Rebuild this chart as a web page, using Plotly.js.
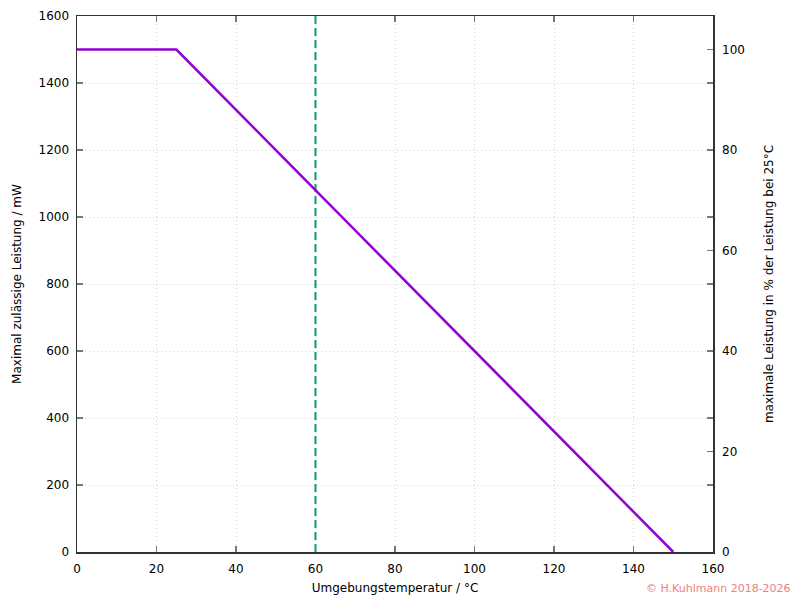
<!DOCTYPE html>
<html>
<head>
<meta charset="utf-8">
<script src="https://cdn.plot.ly/plotly-3.0.1.min.js"></script>
<style>html,body{margin:0;padding:0;background:#fff}#chart{width:800px;height:600px}</style>
</head>
<body>
<div id="chart"></div>
<script>
// Derating curve
const tempC = [0, 25, 150];
const powerMW = [1500, 1500, 0];
const markerTemp = [60, 60];
const markerRange = [0, 1600];
const xTicks = [0, 20, 40, 60, 80, 100, 120, 140, 160];
const yTicks = [0, 200, 400, 600, 800, 1000, 1200, 1400, 1600];
const y2Ticks = [0, 20, 40, 60, 80, 100];
const ratedPower = 1500;

const font = {family: 'DejaVu Sans, sans-serif', size: 12, color: '#000'};

const traces = [
  {x: markerTemp, y: markerRange, mode: 'lines', line: {color: '#009E73', width: 2, dash: '8px,4px'}, hoverinfo: 'skip', showlegend: false},
  {x: tempC, y: powerMW, mode: 'lines', line: {color: '#9400D3', width: 2.5}, showlegend: false},
  {x: [0], y: [0], yaxis: 'y2', mode: 'markers', marker: {opacity: 0}, hoverinfo: 'skip', showlegend: false}
];

const grid = {showgrid: true, gridcolor: '#d4d4d4', griddash: '1px,3px', gridwidth: 1};

const layout = {
  width: 800, height: 600,
  margin: {l: 77, r: 87, t: 16, b: 48},
  paper_bgcolor: '#fff', plot_bgcolor: '#fff',
  font: font,
  showlegend: false,
  xaxis: Object.assign({
    range: [0, 160], tickvals: xTicks, ticktext: xTicks.map(String),
    ticks: 'inside', ticklen: 6, tickcolor: '#777', tickwidth: 1.5,
    showline: true, linecolor: '#333', linewidth: 1.5, mirror: 'ticks',
    zeroline: false, ticklabelstandoff: 5,
    title: {text: 'Umgebungstemperatur / °C', font: font, standoff: 8}
  }, grid),
  yaxis: Object.assign({
    range: [0, 1600], tickvals: yTicks, ticktext: yTicks.map(String),
    ticks: 'inside', ticklen: 6, tickcolor: '#777', tickwidth: 1.5,
    showline: true, linecolor: '#333', linewidth: 1.5, mirror: 'ticks',
    zeroline: false, ticklabelstandoff: 4,
    title: {text: 'Maximal zulässige Leistung / mW', font: font, standoff: 14}
  }, grid),
  yaxis2: {
    overlaying: 'y', side: 'right',
    range: [0, 1600 / ratedPower * 100], tickvals: y2Ticks, ticktext: y2Ticks.map(String),
    ticks: 'inside', ticklen: 6, tickcolor: '#777', tickwidth: 1.5,
    showline: false, showgrid: false, zeroline: false, ticklabelstandoff: 8,
    title: {text: 'maximale Leistung in % der Leistung bei 25°C', font: font, standoff: 20}
  },
  annotations: [{
    text: '© H.Kuhlmann 2018-2026', xref: 'paper', yref: 'paper',
    x: 1, y: 0, xanchor: 'right', yanchor: 'bottom', xshift: 80, yshift: -45,
    showarrow: false, font: {family: 'DejaVu Sans, sans-serif', size: 11, color: '#f08080'}
  }]
};

Plotly.newPlot('chart', traces, layout, {displayModeBar: false, staticPlot: true});
</script>
</body>
</html>
